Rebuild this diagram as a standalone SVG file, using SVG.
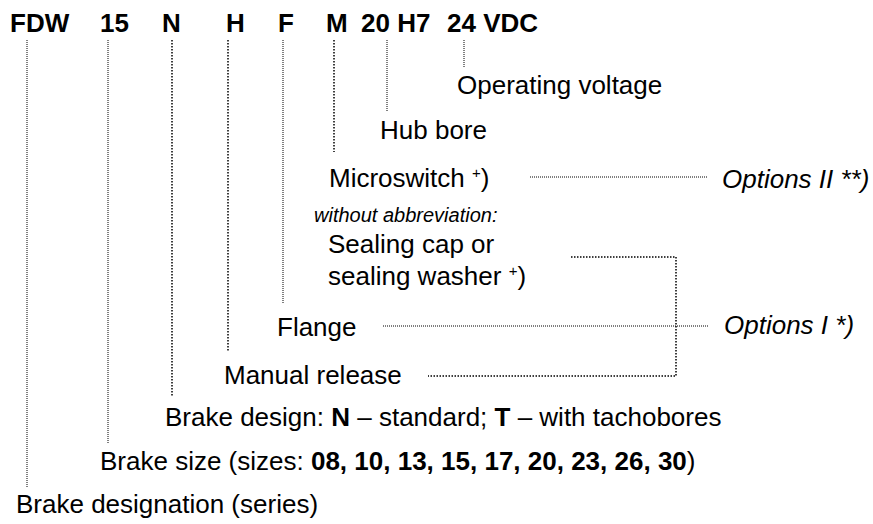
<svg xmlns="http://www.w3.org/2000/svg" width="873" height="524" viewBox="0 0 873 524">
<style>
text{font-family:"Liberation Sans",Arial,sans-serif;fill:#000}
.h{font-size:26px;font-weight:bold}
.t{font-size:26px}
.i{font-style:italic}
.s{font-size:20px;font-style:italic}
.b{font-weight:bold}
.d{fill:none;stroke:#000;stroke-width:1;stroke-dasharray:1 1}
.dk{fill:none;stroke:#000;stroke-width:1.5;stroke-dasharray:1.5 1.5}
</style>
<rect width="873" height="524" fill="#fff"/>
<g id="code">
<text class="h" x="10" y="32">FDW</text>
<text class="h" x="100" y="32">15</text>
<text class="h" x="162" y="32">N</text>
<text class="h" x="226" y="32">H</text>
<text class="h" x="278" y="32">F</text>
<text class="h" x="326" y="32">M</text>
<text class="h" x="361" y="32">20 H7</text>
<text class="h" x="447" y="32">24 VDC</text>
</g>
<g id="connectors">
<path class="d" d="M27 40V487"/>
<path class="d" d="M108 40V443"/>
<path class="dk" d="M172 40V396"/>
<path class="dk" d="M228 40V352"/>
<path class="d" d="M283 40V303"/>
<path class="dk" d="M334 40V152"/>
<path class="d" d="M387 40V112"/>
<path class="d" d="M464 40V68"/>
<path class="d" d="M530 177H708"/>
<path class="dk" d="M571 257H676V376H428"/>
<path class="d" d="M383 326H708"/>
</g>
<g id="operating-voltage"><text class="t" x="457" y="94">Operating voltage</text></g>
<g id="hub-bore"><text class="t" x="380" y="139">Hub bore</text></g>
<g id="microswitch"><text class="t" x="329" y="187">Microswitch <tspan font-size="15" dy="-9">+</tspan><tspan dy="9">)</tspan></text></g>
<g id="options-2"><text class="t i" x="722" y="188">Options II **)</text></g>
<g id="sealing">
<text class="s" x="314" y="222">without abbreviation:</text>
<text class="t" x="328" y="253">Sealing cap or</text>
<text class="t" x="328" y="285">sealing washer <tspan font-size="15" dy="-9">+</tspan><tspan dy="9">)</tspan></text>
</g>
<g id="flange"><text class="t" x="277" y="336">Flange</text></g>
<g id="options-1"><text class="t i" x="724" y="334">Options I *)</text></g>
<g id="manual-release"><text class="t" x="224" y="384">Manual release</text></g>
<g id="brake-design"><text class="t" x="165" y="426" font-size="26.5">Brake design: <tspan class="b">N</tspan> – standard; <tspan class="b">T</tspan> – with tachobores</text></g>
<g id="brake-size"><text class="t" x="100" y="470">Brake size (sizes: <tspan class="b">08, 10, 13, 15, 17, 20, 23, 26, 30</tspan>)</text></g>
<g id="brake-designation"><text class="t" x="16" y="513">Brake designation (series)</text></g>
</svg>
